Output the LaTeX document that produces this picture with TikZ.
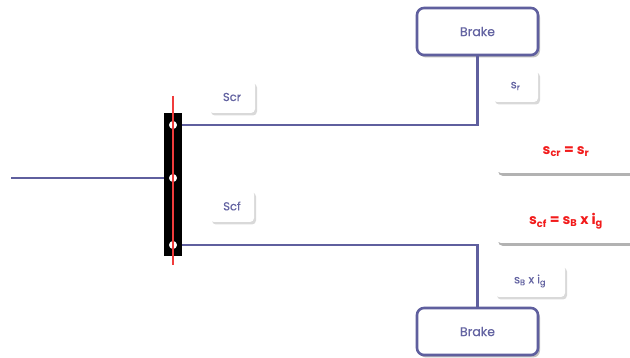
\documentclass[tikz,border=0pt]{standalone}
\usepackage{fontspec}
\setmainfont{Poppins}
\newfontfamily\medfont{Poppins}[FakeBold=0.5]
\usetikzlibrary{shadows}
\definecolor{lav}{HTML}{5F5F9E}
\definecolor{txt}{HTML}{6464A2}
\definecolor{redl}{HTML}{F03C3C}
\definecolor{redt}{HTML}{F21B1B}
\begin{document}
\begin{tikzpicture}[x=1pt,y=-1pt,
  wire/.style={draw=lav,line width=2.3pt},
  brakebox/.style={draw=lav,line width=2.6pt,rounded corners=7pt,fill=white,
    minimum width=121pt,minimum height=47pt,inner sep=0pt,
    font=\medfont\fontsize{12.5}{14}\selectfont,text=txt,
    drop shadow={shadow xshift=2pt,shadow yshift=-2.5pt,opacity=0.25,fill=black}},
  lbl/.style={rounded corners=4pt,fill=white,inner sep=0pt,
    font=\medfont\fontsize{11.5}{13}\selectfont,text=txt,
    drop shadow={shadow xshift=2pt,shadow yshift=-2.5pt,opacity=0.15,fill=black}},
  eqbox/.style={rounded corners=5pt,fill=white,inner sep=0pt,
    minimum width=140pt,minimum height=43pt,
    font=\fontsize{14}{16}\selectfont\bfseries,text=redt,
    drop shadow={shadow xshift=2pt,shadow yshift=-3pt,opacity=0.3,fill=black}},
  joint/.style={circle,fill=white,draw=white,inner sep=0pt,minimum size=7.5pt}
]
\useasboundingbox (0,0) rectangle (630,358);
\fill[white] (0,0) rectangle (630,358);

% nodes
\node[brakebox] (b1) at (477.5,31.5) {Brake};
\node[brakebox] (b2) at (477.5,331.5) {Brake};
\node[lbl,minimum width=45pt,minimum height=32pt] (sr) at (515.5,86) {s\textsubscript{r}};
\node[lbl,minimum width=70pt,minimum height=32pt] (sbig) at (530,281) {s\textsubscript{B} x i\textsubscript{g}};
\node[lbl,minimum width=46pt,minimum height=32pt] (scr) at (232,97) {Scr};
\node[lbl,minimum width=44pt,minimum height=32pt] (scf) at (232,206) {Scf};
\node[eqbox] (eq1) at (566,151.5) {s\textsubscript{cr} = s\textsubscript{r}};
\node[eqbox] (eq2) at (566,221.5) {s\textsubscript{cf} = s\textsubscript{B} x i\textsubscript{g}};

% joints (coordinates)
\coordinate (c1) at (173,125);
\coordinate (c2) at (173,178);
\coordinate (c3) at (173,245);
\coordinate (in) at (11,178);

% wires
\draw[wire] (c1) -| (b1.south);
\draw[wire] (c3) -| (b2.north);
\draw[wire] (in) -- (c2);

% lever bar
\fill[black] (164,113) rectangle (182,256);
\node[joint] (j1) at (c1) {};
\node[joint] (j2) at (c2) {};
\node[joint] (j3) at (c3) {};
\coordinate (rtop) at (173,96);
\coordinate (rbot) at (173,265);
\draw[redl,line width=1.1pt] (rtop) -- (rbot);
\end{tikzpicture}
\end{document}
